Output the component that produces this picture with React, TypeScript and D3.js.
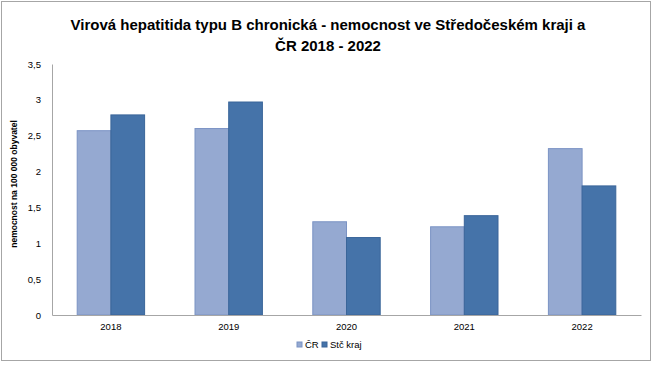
import React, { useEffect, useRef } from "react";
import * as d3 from "d3";

const years = ["2018", "2019", "2020", "2021", "2022"];
const seriesNames = ["ČR", "Stč kraj"];
const crValues = [2.57, 2.6, 1.3, 1.23, 2.32];
const stcValues = [2.79, 2.97, 1.08, 1.385, 1.8];
const yTickValues = [0, 0.5, 1, 1.5, 2, 2.5, 3, 3.5];

const W = 657;
const H = 367;
const fills = ["#95a9d1", "#4573a9"];
const strokes = ["#7b93c4", "#3a6599"];
const font = "'Liberation Sans', Arial, sans-serif";

const App = () => {
  const ref = useRef<SVGSVGElement>(null);

  useEffect(() => {
    const svg = d3.select(ref.current);
    svg.selectAll("*").remove();

    const x = d3.scaleBand().domain(years).range([52, 641]);
    const inner = d3.scaleBand().domain(seriesNames).range([0, 67.4]);
    const y = d3.scaleLinear().domain([0, 3.5]).range([315, 64]);

    // frame
    svg
      .append("rect")
      .attr("x", 1.5)
      .attr("y", 1.5)
      .attr("width", 649)
      .attr("height", 359)
      .attr("fill", "#fff")
      .attr("stroke", "#a6a6a6");

    // title
    const title = svg
      .append("text")
      .attr("text-anchor", "middle")
      .attr("font-family", font)
      .attr("font-weight", "bold")
      .attr("font-size", 15)
      .attr("fill", "#000");
    title.append("tspan").attr("x", 328).attr("y", 30).text("Virová hepatitida typu B chronická - nemocnost ve Středočeském kraji a");
    title.append("tspan").attr("x", 328).attr("y", 51).text("ČR 2018 - 2022");

    // bars
    const data = [crValues, stcValues];
    data.forEach((vals, si) => {
      svg
        .append("g")
        .selectAll("rect")
        .data(vals)
        .join("rect")
        .attr("x", (d, i) => x(years[i])! + (x.bandwidth() - 67.4) / 2 + inner(seriesNames[si])!)
        .attr("y", d => y(d))
        .attr("width", inner.bandwidth())
        .attr("height", d => y(0) - y(d))
        .attr("fill", fills[si])
        .attr("stroke", strokes[si])
        .attr("stroke-width", 1);
    });

    // y axis
    svg
      .append("g")
      .attr("transform", "translate(52,0)")
      .call(d3.axisLeft(y).tickValues(yTickValues).tickSize(0).tickPadding(11).tickFormat(d => String(d).replace(".", ",")))
      .call(g => g.select(".domain").attr("stroke", "#a6a6a6"))
      .call(g => g.selectAll(".tick text").attr("font-family", font).attr("font-size", 9.5).attr("fill", "#000"));

    // x axis
    svg
      .append("g")
      .attr("transform", "translate(0,315)")
      .call(d3.axisBottom(x).tickSize(0).tickPadding(8))
      .call(g => g.select(".domain").attr("stroke", "#a6a6a6"))
      .call(g => g.selectAll(".tick text").attr("font-family", font).attr("font-size", 9.5).attr("fill", "#000"));

    // y title
    svg
      .append("text")
      .attr("transform", "translate(17,184) rotate(-90)")
      .attr("text-anchor", "middle")
      .attr("font-family", font)
      .attr("font-weight", "bold")
      .attr("font-size", 8.5)
      .attr("fill", "#000")
      .text("nemocnost na 100 000 obyvatel");

    // legend
    const legendX = [297, 322];
    seriesNames.forEach((name, i) => {
      const lg = svg.append("g").attr("transform", `translate(${legendX[i]},342)`);
      lg.append("rect")
        .attr("width", 5)
        .attr("height", 5)
        .attr("fill", fills[i])
        .attr("stroke", strokes[i]);
      lg.append("text")
        .attr("x", 8)
        .attr("y", 6)
        .attr("font-family", font)
        .attr("font-size", 9.5)
        .attr("fill", "#000")
        .text(name);
    });
  }, []);

  return <svg ref={ref} width={W} height={H} style={{ position: "absolute", left: 0, top: 0 }} />;
};

export default App;
